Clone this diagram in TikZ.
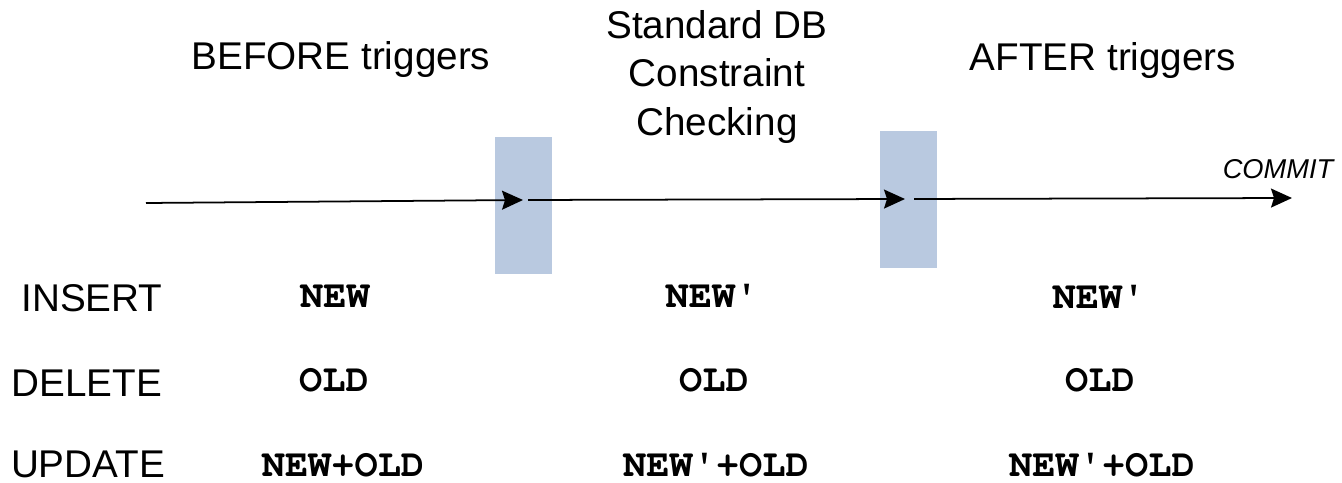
\documentclass[tikz,border=0pt]{standalone}
\usepackage{fontspec}
\setmainfont{Liberation Sans}
\usepackage{xcolor}
\usetikzlibrary{arrows.meta,positioning}
\definecolor{gateblue}{RGB}{185,201,224}
\newcommand{\courierbold}{\fontencoding{T1}\fontfamily{pcr}\fontseries{b}\selectfont}

\begin{document}
\begin{tikzpicture}[
    x=0.02cm,
    y=-0.02cm,
    gate/.style={
        rectangle,
        fill=gateblue,
        inner sep=0pt,
        minimum width=1.14cm,
        minimum height=2.74cm
    },
    arrow/.style={-{Stealth[length=0.42cm, width=0.38cm, inset=0.06cm]}, line width=1pt},
    heading/.style={font=\fontsize{22}{27.5}\selectfont, align=center},
    oplabel/.style={font=\fontsize{22}{27}\selectfont, anchor=base},
    record/.style={font=\fontsize{22}{27}\courierbold, anchor=base}
]
\useasboundingbox (0,0) rectangle (1342,483);

% Gates between the phases
\node[gate] (gate1) at (523.5, 205.5) {};
\node[gate] (gate2) at (908.5, 199.5) {};

% Timeline
\coordinate (start) at (146, 203);
\coordinate (tick1) at (523, 200);
\coordinate (tick2) at (905, 199);
\coordinate (commit) at (1292, 198);

\draw[arrow] (start) -- (tick1);
\draw[arrow, shorten <=0.1cm] (tick1) -- (tick2);
\draw[arrow, shorten <=0.18cm] (tick2) -- (commit);
\node[font=\fontsize{15.5}{18}\selectfont\itshape, anchor=base] (commitlabel) at (1278, 178) {COMMIT};

% Phase headings
\node[heading, anchor=base] (before) at (341, 70) {BEFORE triggers};
\node[heading] (checking) at (717, 77) {Standard DB\\Constraint\\Checking};
\node[heading, anchor=base] (after) at (1103, 71) {AFTER triggers};

% Operations
\node[oplabel] (insert) at (92, 311) {INSERT};
\node[oplabel] (delete) at (87, 396) {DELETE};
\node[oplabel] (update) at (88, 477) {UPDATE};

% Records seen in each phase
\node[record] (insbefore) at (335, 307) {NEW};
\node[record] (delbefore) at (334, 391) {OLD};
\node[record] (updbefore) at (343, 476) {NEW+OLD};

\node[record] (inscheck) at (712, 307) {NEW\textquotesingle};
\node[record] (delcheck) at (714, 391) {OLD};
\node[record] (updcheck) at (716, 476) {NEW\textquotesingle+OLD};

\node[record] (insafter) at (1099, 308) {NEW\textquotesingle};
\node[record] (delafter) at (1100, 391) {OLD};
\node[record] (updafter) at (1102, 476) {NEW\textquotesingle+OLD};

\end{tikzpicture}
\end{document}
